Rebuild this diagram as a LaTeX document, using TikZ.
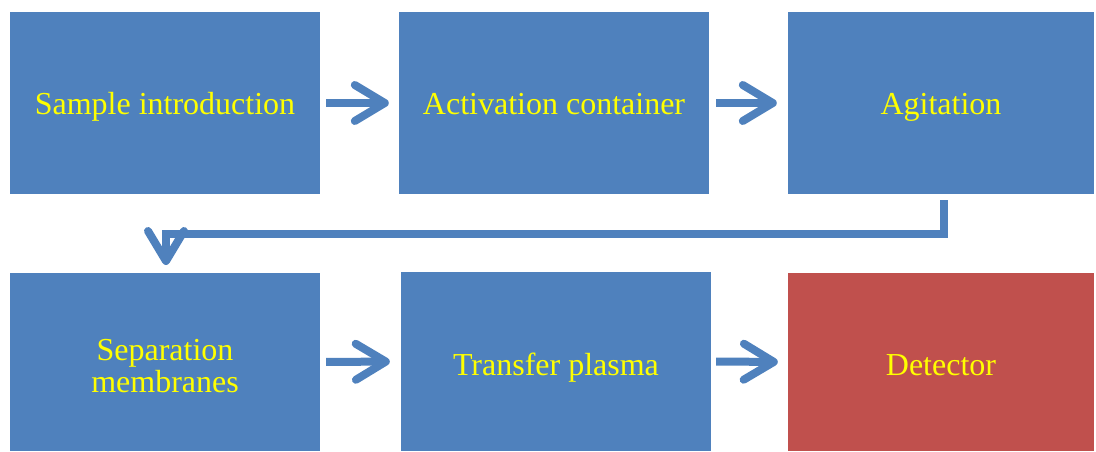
\documentclass[tikz,border=0pt]{standalone}
\usepackage{fontspec}
\setmainfont{Liberation Serif}
\usetikzlibrary{arrows.meta}
\definecolor{boxblue}{HTML}{4F81BD}
\definecolor{boxred}{HTML}{C0504D}
\definecolor{txtyellow}{HTML}{FFFF00}
\newcommand{\twolines}[2]{\vtop{\baselineskip=32pt\halign{\hfil##\hfil\cr #1\cr #2\cr}}}
\begin{document}
\begin{tikzpicture}[x=1pt,y=-1pt,
  stepbox/.style={draw=none, fill=boxblue, minimum width=310pt, minimum height=182pt,
    inner sep=0pt, text=txtyellow, font=\fontsize{32}{33}\selectfont,
    text height=29pt, text depth=6pt},
  lowtext/.style={text height=31pt, text depth=4pt},
  arr/.style={draw=boxblue, line width=8pt,
    -{Straight Barb[length=30pt, width=36pt, line width=8pt, round]}}
]
\useasboundingbox (0,0) rectangle (1096,452);
\node[stepbox] (b1) at (165,103) {Sample introduction};
\node[stepbox] (b2) at (554,103) {Activation container};
\node[stepbox, minimum width=306pt] (b3) at (941,103) {Agitation};
\node[stepbox, minimum height=178pt, text height=24pt, text depth=28pt] (b4) at (165,362) {\twolines{Separation}{membranes}};
\node[stepbox, lowtext, minimum height=179pt] (b5) at (556,361.5) {Transfer plasma};
\node[stepbox, lowtext, fill=boxred, minimum width=306pt, minimum height=178pt] (b6) at (941,362) {Detector};
\coordinate (c1) at (944,234);
\coordinate (c2) at (166,265);
\draw[arr, shorten <=6pt, shorten >=10pt] (b1.east) -- (b2.west);
\draw[arr, shorten <=7pt, shorten >=11pt] (b2.east) -- (b3.west);
\draw[arr, shorten <=6pt, shorten >=11pt] (b4.east) -- (b5.west);
\draw[arr, shorten <=5pt, shorten >=10pt] (b5.east) -- (b6.west);
\draw[arr, shorten <=6pt] (b3.south -| c1) -- (c1) -| (c2);
\end{tikzpicture}
\end{document}
